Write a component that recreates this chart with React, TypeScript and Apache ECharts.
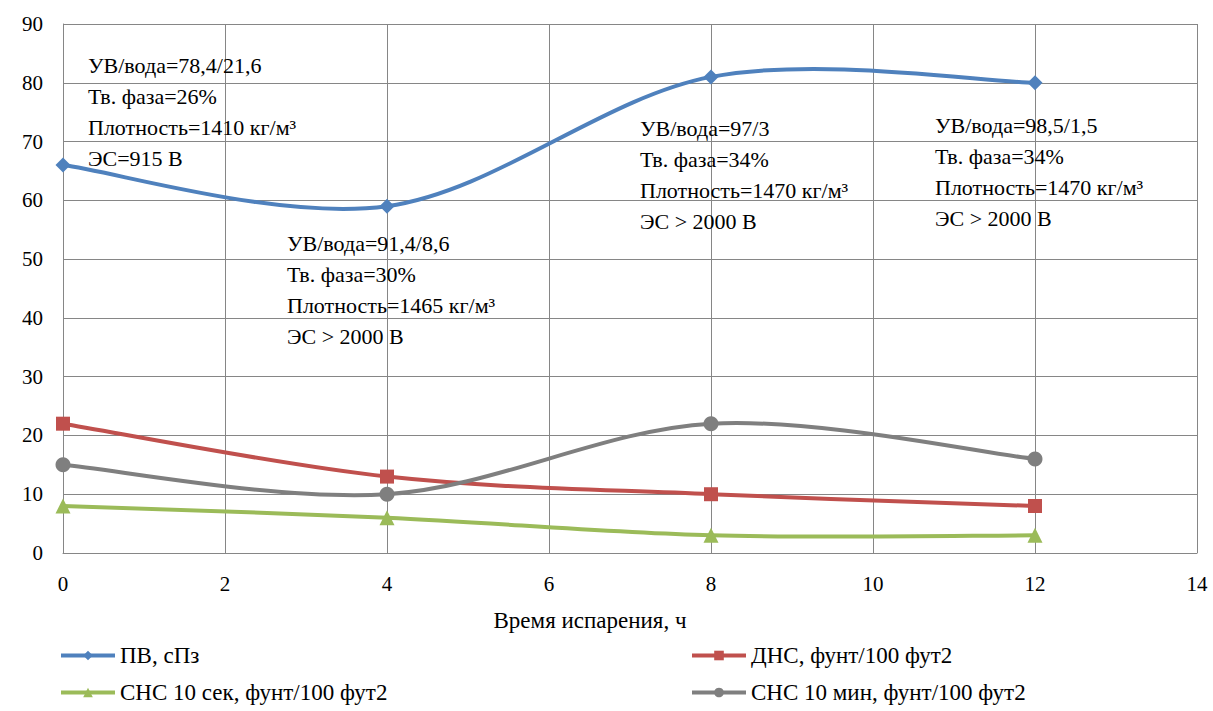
import React, { useEffect, useRef } from "react";
import * as echarts from "echarts";

// Evaporation time, hours
const hours = [0, 4, 8, 12];

// Rheology measurements
const pv = [66, 59, 81, 80]; // ПВ, сПз
const yp = [22, 13, 10, 8]; // ДНС
const gel10s = [8, 6, 3, 3]; // СНС 10 сек
const gel10m = [15, 10, 22, 16]; // СНС 10 мин

const seriesNames = [
  "ПВ, сПз",
  "ДНС, фунт/100 фут2",
  "СНС 10 сек, фунт/100 фут2",
  "СНС 10 мин, фунт/100 фут2",
];

const xTitle = "Время испарения, ч";

// Composition notes for each sampling point
const notes = [
  "УВ/вода=78,4/21,6\nТв. фаза=26%\nПлотность=1410 кг/м³\nЭС=915 В",
  "УВ/вода=91,4/8,6\nТв. фаза=30%\nПлотность=1465 кг/м³\nЭС > 2000 В",
  "УВ/вода=97/3\nТв. фаза=34%\nПлотность=1470 кг/м³\nЭС > 2000 В",
  "УВ/вода=98,5/1,5\nТв. фаза=34%\nПлотность=1470 кг/м³\nЭС > 2000 В",
];

const FONT = "Liberation Serif, Times New Roman, Tinos, Noto Serif, DejaVu Serif, serif";

export default function App() {
  const ref = useRef<HTMLDivElement>(null);

  useEffect(() => {
    document.body.style.margin = "0";
    if (!ref.current) return;
    const chart = echarts.init(ref.current, undefined, { renderer: "svg" });

    const colors = ["#4F81BD", "#C0504D", "#9BBB59", "#7F7F7F"];
    const symbols = ["diamond", "rect", "triangle", "circle"];
    const sizes = [15, 14, 15, 15];
    const datas = [pv, yp, gel10s, gel10m];

    // Catmull-Rom style smoothing (control points at 1/6 of neighbour span)
    const curveSeries = (vals: number[], color: string) => ({
      type: "custom",
      silent: true,
      z: 2,
      data: hours.map((h, i) => [h, vals[i]]),
      renderItem: (params: any, api: any) => {
        const i = params.dataIndex;
        if (i >= hours.length - 1) return null;
        const pt = (k: number) => {
          const j = Math.max(0, Math.min(hours.length - 1, k));
          return api.coord([hours[j], vals[j]]);
        };
        const p0 = pt(i - 1);
        const p1 = pt(i);
        const p2 = pt(i + 1);
        const p3 = pt(i + 2);
        const c1 = [p1[0] + (p2[0] - p0[0]) / 6, p1[1] + (p2[1] - p0[1]) / 6];
        const c2 = [p2[0] - (p3[0] - p1[0]) / 6, p2[1] - (p3[1] - p1[1]) / 6];
        return {
          type: "bezierCurve",
          shape: {
            x1: p1[0],
            y1: p1[1],
            cpx1: c1[0],
            cpy1: c1[1],
            cpx2: c2[0],
            cpy2: c2[1],
            x2: p2[0],
            y2: p2[1],
          },
          style: { stroke: color, lineWidth: 4, fill: null, lineCap: "round" },
        };
      },
    });

    const notePos = [
      { x: 88, y: 50 },
      { x: 287, y: 228 },
      { x: 640, y: 113 },
      { x: 935, y: 110 },
    ];

    const legendPos = [
      { left: 59, top: 644 },
      { left: 690, top: 644 },
      { left: 59, top: 681 },
      { left: 690, top: 681 },
    ];

    chart.setOption({
      animation: false,
      backgroundColor: "#ffffff",
      textStyle: { fontFamily: FONT },
      grid: { left: 63, right: 16, top: 24, bottom: 158 },
      xAxis: {
        type: "value",
        min: 0,
        max: 14,
        interval: 2,
        axisLine: { show: true, lineStyle: { color: "#868686", width: 1 } },
        axisTick: { show: false },
        splitLine: { show: true, lineStyle: { color: "#868686", width: 1 } },
        axisLabel: { color: "#000", fontFamily: FONT, fontSize: 21, margin: 20 },
      },
      yAxis: {
        type: "value",
        min: 0,
        max: 90,
        interval: 10,
        axisLine: { show: true, lineStyle: { color: "#868686", width: 1 } },
        axisTick: { show: false },
        splitLine: { show: true, lineStyle: { color: "#868686", width: 1 } },
        axisLabel: { color: "#000", fontFamily: FONT, fontSize: 21, margin: 20 },
      },
      legend: legendPos.map((p, i) => ({
        data: [seriesNames[i]],
        left: p.left,
        top: p.top,
        padding: 0,
        itemWidth: 54,
        itemHeight: 12,
        lineStyle: { color: colors[i], width: 4, opacity: 1 },
        textStyle: { color: "#000", fontFamily: FONT, fontSize: 23 },
      })),
      series: [
        ...datas.map((d, i) => curveSeries(d, colors[i])),
        ...datas.map((d, i) => ({
          name: seriesNames[i],
          type: "line",
          data: hours.map((h, k) => [h, d[k]]),
          symbol: symbols[i],
          symbolSize: sizes[i],
          color: colors[i],
          lineStyle: { width: 4, color: colors[i], opacity: 0 },
          itemStyle: { color: colors[i] },
          z: 5,
        })),
      ],
      graphic: [
        ...notes.map((t, i) => ({
          type: "text",
          left: notePos[i].x,
          top: notePos[i].y,
          z: 20,
          style: {
            text: t,
            fill: "#000",
            fontFamily: FONT,
            fontSize: 22,
            lineHeight: 31,
          },
        })),
        {
          type: "text",
          x: 590,
          y: 620,
          style: {
            text: xTitle,
            fill: "#000",
            fontFamily: FONT,
            fontSize: 23,
            textAlign: "center",
            textVerticalAlign: "middle",
          },
        },
      ],
    });

    return () => chart.dispose();
  }, []);

  return <div ref={ref} style={{ width: 1213, height: 711, fontFamily: FONT }} />;
}
